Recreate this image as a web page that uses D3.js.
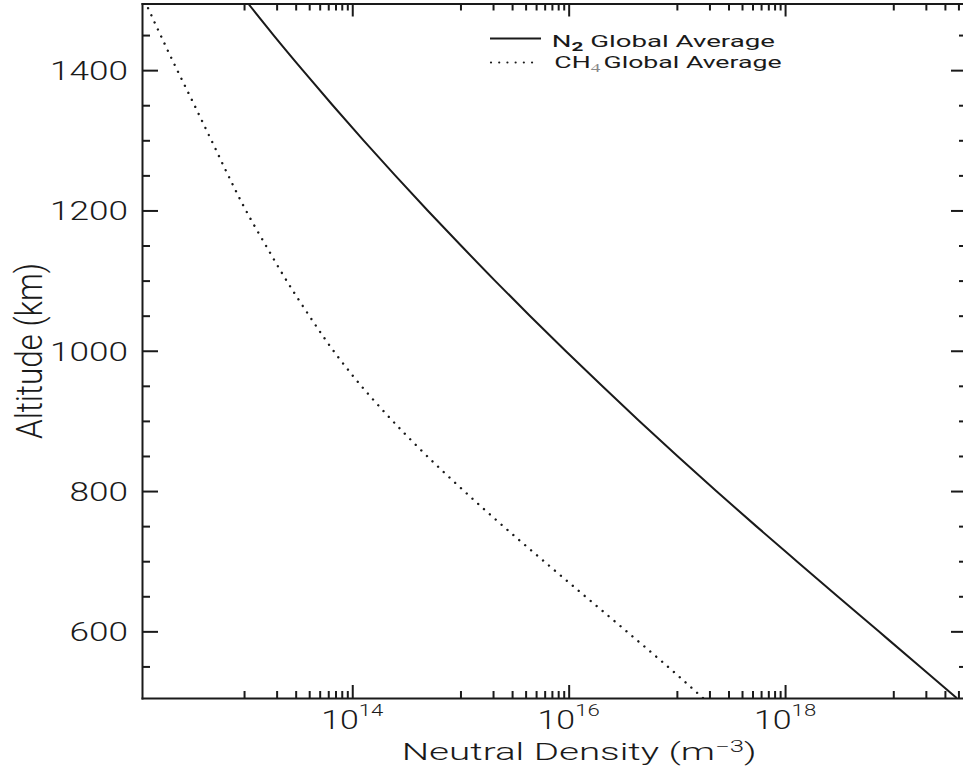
<!DOCTYPE html>
<html>
<head>
<meta charset="utf-8">
<script src="https://cdn.jsdelivr.net/npm/d3@7"></script>
<style>
  html, body { margin: 0; padding: 0; background: #fff; }
  svg { display: block; }
  text { font-family: Roboto, "DejaVu Sans", sans-serif; font-weight: 300; fill: #1a1a1a; }
</style>
</head>
<body>
<svg id="chart" width="963" height="773"></svg>
<script>
// Altitude grid (km) and globally averaged neutral densities (m^-3)
const altitudeKm = [505, 550, 600, 650, 700, 750, 800, 850, 900, 950, 1000,
                    1050, 1100, 1150, 1200, 1250, 1300, 1350, 1400, 1450, 1495];
const n2Density = [3.86e19, 1.76e19, 7.33e18, 3.05e18, 1.28e18, 5.40e17, 2.31e17, 1.01e17, 4.49e16, 2.03e16, 9.33e15,
                   4.37e15, 2.08e15, 1.01e15, 4.97e14, 2.49e14, 1.27e14, 6.59e13, 3.48e13, 1.87e13, 1.09e13];
const ch4Density = [1.74e17, 8.2e16, 3.43e16, 1.42e16, 5.9e15, 2.48e15, 1.08e15, 4.9e14, 2.36e14, 1.21e14, 6.7e13,
                    4.0e13, 2.47e13, 1.59e13, 1.04e13, 7.14e12, 4.99e12, 3.48e12, 2.41e12, 1.69e12, 1.24e12];

// Axis ticks
const altitudeMajorTicks = [600, 800, 1000, 1200, 1400];
const altitudeMinorTicks = [550, 650, 700, 750, 850, 900, 950, 1050, 1100, 1150, 1250, 1300, 1350, 1450];
const densityMajorTicks = [1e14, 1e16, 1e18];
const densityTickExponents = ["14", "16", "18"];
const minorTickDecades = [1e13, 1e15, 1e17, 1e19];
const minorTickMantissas = [1, 2, 3, 4, 5, 6, 7, 8, 9];

// Legend entries
const legendSpecies = ["N", "CH"];
const legendSubscripts = ["2", "4"];
const legendSuffix = "Global Average";

const ink = "#1a1a1a";
const plot = { left: 142, right: 967, top: 3.5, bottom: 698 };

const svg = d3.select("#chart");

const x = d3.scaleLog().domain([1.14e12, 4.8e19]).range([plot.left, plot.right]);
const y = d3.scaleLinear().domain([505, 1495]).range([plot.bottom, plot.top]);

const densityMinorTicks = minorTickDecades
  .flatMap(dec => minorTickMantissas.map(m => m * dec))
  .filter(v => v >= x.domain()[0] && v <= x.domain()[1]);

svg.append("clipPath").attr("id", "plotClip")
  .append("rect")
  .attr("x", plot.left).attr("y", plot.top)
  .attr("width", plot.right - plot.left).attr("height", plot.bottom - plot.top);

// Profiles
const profile = vals => d3.line()
  .x((d, i) => x(vals[i]))
  .y(d => y(d))
  .curve(d3.curveMonotoneY)(altitudeKm);

const curves = svg.append("g").attr("clip-path", "url(#plotClip)");
curves.append("path")
  .attr("d", profile(n2Density))
  .attr("fill", "none").attr("stroke", ink).attr("stroke-width", 2);
curves.append("path")
  .attr("d", profile(ch4Density))
  .attr("fill", "none").attr("stroke", ink).attr("stroke-width", 2.4)
  .attr("stroke-linecap", "round").attr("stroke-dasharray", "0.01 7.8");

// Axis helpers
function styleAxis(g) {
  g.selectAll("path, line").attr("stroke", ink).attr("stroke-width", 2);
  g.select(".domain").attr("stroke-linecap", "square");
}
function minorOnly(g) { g.select(".domain").remove(); styleAxis(g); }

// Left axis
const leftAxis = svg.append("g")
  .attr("transform", `translate(${plot.left},0)`)
  .call(d3.axisLeft(y).tickValues(altitudeMajorTicks)
    .tickSizeInner(-16).tickSizeOuter(0).tickPadding(14).tickFormat(d3.format("d")))
  .call(styleAxis);
svg.append("g")
  .attr("transform", `translate(${plot.left},0)`)
  .call(d3.axisLeft(y).tickValues(altitudeMinorTicks).tickSizeInner(-8).tickSizeOuter(0).tickFormat(""))
  .call(minorOnly);

const yLabels = leftAxis.selectAll(".tick text")
  .attr("x", 0).attr("dy", null)
  .attr("text-anchor", "end")
  .style("font-size", "26px");
const yRefNode = yLabels.filter(d => d === 1400).node();
const yScaleX = 78 / yRefNode.getBBox().width;
yLabels.attr("transform", `translate(-14,9.5) scale(${yScaleX},1)`);

// Right axis
svg.append("g")
  .attr("transform", `translate(${plot.right},0)`)
  .call(d3.axisRight(y).tickValues(altitudeMajorTicks).tickSizeInner(-16).tickSizeOuter(0).tickFormat(""))
  .call(styleAxis);
svg.append("g")
  .attr("transform", `translate(${plot.right},0)`)
  .call(d3.axisRight(y).tickValues(altitudeMinorTicks).tickSizeInner(-8).tickSizeOuter(0).tickFormat(""))
  .call(minorOnly);

// Bottom axis
svg.append("g")
  .attr("transform", `translate(0,${plot.bottom})`)
  .call(d3.axisBottom(x).tickValues(densityMajorTicks).tickSizeInner(-13).tickSizeOuter(0).tickFormat(""))
  .call(styleAxis);
svg.append("g")
  .attr("transform", `translate(0,${plot.bottom})`)
  .call(d3.axisBottom(x).tickValues(densityMinorTicks).tickSizeInner(-7).tickSizeOuter(0).tickFormat(""))
  .call(minorOnly);

// Top axis
svg.append("g")
  .attr("transform", `translate(0,${plot.top})`)
  .call(d3.axisTop(x).tickValues(densityMajorTicks).tickSizeInner(-13).tickSizeOuter(0).tickFormat(""))
  .call(styleAxis);
svg.append("g")
  .attr("transform", `translate(0,${plot.top})`)
  .call(d3.axisTop(x).tickValues(densityMinorTicks).tickSizeInner(-7).tickSizeOuter(0).tickFormat(""))
  .call(minorOnly);

// Power-of-ten labels under the major density ticks
const xLabels = svg.append("g").selectAll("text")
  .data(densityMajorTicks)
  .join("text")
  .attr("text-anchor", "middle")
  .style("font-size", "26px");
xLabels.append("tspan").text("10");
xLabels.append("tspan").attr("dy", -13).style("font-size", "17px")
  .text((d, i) => densityTickExponents[i]);
const xScaleX = 63 / xLabels.node().getBBox().width;
xLabels.attr("transform", d => `translate(${x(d)},${plot.bottom + 31}) scale(${xScaleX},1)`);

// Axis titles
const xTitle = svg.append("text")
  .attr("text-anchor", "start")
  .style("font-size", "24px");
xTitle.append("tspan").text("Neutral Density (m");
xTitle.append("tspan").attr("dy", -8.3).style("font-size", "16px").text("\u22123");
xTitle.append("tspan").attr("dy", 8.3).text(")");
const xTitleScale = 355 / xTitle.node().getBBox().width;
xTitle.attr("transform", `translate(401.7,760) scale(${xTitleScale},1)`);

const yTitle = svg.append("text")
  .attr("text-anchor", "middle")
  .style("font-size", "37px")
  .text("Altitude (km)");
const yTitleScale = 176 / yTitle.node().getBBox().width;
yTitle.attr("transform", `translate(41.7,351) rotate(-90) scale(${yTitleScale},1)`);

// Legend
const legend = svg.append("g");
legend.append("line")
  .attr("x1", 490).attr("x2", 541).attr("y1", 38.5).attr("y2", 38.5)
  .attr("stroke", ink).attr("stroke-width", 2);
legend.append("line")
  .attr("x1", 491).attr("x2", 540).attr("y1", 62.5).attr("y2", 62.5)
  .attr("stroke", ink).attr("stroke-width", 2.2)
  .attr("stroke-linecap", "round").attr("stroke-dasharray", "0.01 8.2");

const leg1 = legend.append("text").style("font-size", "16px").style("font-weight", "400");
leg1.append("tspan").text(legendSpecies[0]);
leg1.append("tspan").attr("dy", 3.5).style("font-size", "12px").style("font-weight", "700").text(legendSubscripts[0]);
leg1.append("tspan").attr("dy", -3.5).text(" " + legendSuffix);
leg1.attr("transform", `translate(551.7,47.3) scale(${223.4 / leg1.node().getBBox().width},1)`);

const leg2 = legend.append("text").style("font-size", "16px").style("font-weight", "400");
leg2.append("tspan").text(legendSpecies[1]);
leg2.append("tspan").attr("dy", 4.5).style("font-size", "11.5px")
  .style("font-family", "'Liberation Serif', serif").style("fill", "#888").text(legendSubscripts[1]);
leg2.append("tspan").attr("dy", -4.5).attr("dx", 2).text(legendSuffix);
leg2.attr("transform", `translate(554.3,67.5) scale(${227.4 / leg2.node().getBBox().width},1)`);
</script>
</body>
</html>
